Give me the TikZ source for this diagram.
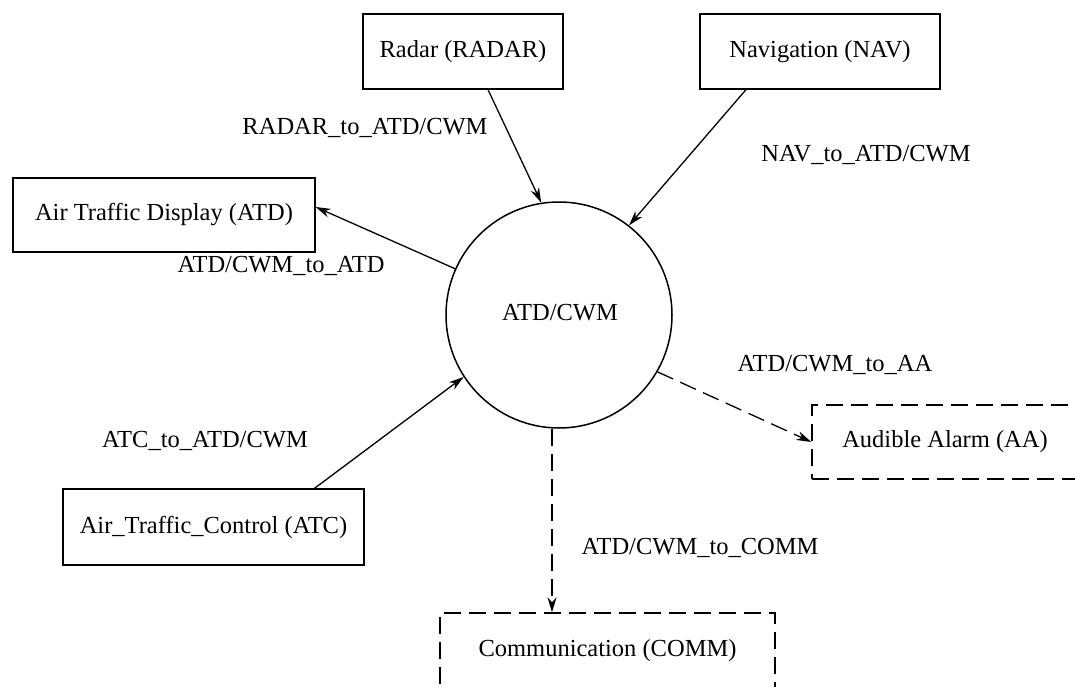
\documentclass[tikz,border=0pt]{standalone}
\usepackage{fontspec}
\setmainfont{Liberation Serif}
\usetikzlibrary{arrows.meta}
\begin{document}
\begin{tikzpicture}[x=1pt,y=-1pt,
  every node/.style={font=\fontsize{24.5}{28}\selectfont},
  blockbox/.style={draw, line width=1.3pt, inner sep=0pt, rectangle},
  extbox/.style={blockbox, dash pattern=on 17pt off 8pt},
  procnode/.style={draw, circle, line width=1.5pt, minimum size=226pt, inner sep=0pt},
  flow/.style={line width=1.3pt, -{Stealth[length=15pt,width=9pt]}},
  dflow/.style={flow, dash pattern=on 17pt off 8pt},
  flowlabel/.style={inner sep=0pt}]
\useasboundingbox (0,0) rectangle (1075,687);
\clip (0,0) rectangle (1075,687);

% central process
\node[procnode] (cwm) at (559,315) {};
\node[flowlabel] (cwmtext) at (560,313) {ATD/CWM};

% terminators
\node[blockbox, minimum width=200pt, minimum height=75pt] (radar) at (463,51.5) {Radar (RADAR)};
\node[blockbox, minimum width=240pt, minimum height=75pt] (nav) at (820,51.5) {Navigation (NAV)};
\node[blockbox, minimum width=302pt, minimum height=74pt] (atd) at (164,215) {Air Traffic Display (ATD)};
\node[blockbox, minimum width=301pt, minimum height=76pt] (atc) at (213.5,527) {Air\_Traffic\_Control (ATC)};
\node[extbox, minimum width=266pt, minimum height=74pt] (aa) at (945,442) {Audible Alarm (AA)};
\node[extbox, minimum width=335pt, minimum height=76pt] (comm) at (607.5,651) {Communication (COMM)};

% data flows
\draw[flow] ([xshift=25pt]radar.south) -- (cwm.99.6);
\draw[flow] ([xshift=-74pt]nav.south) -- (cwm.52.5);
\draw[flow] (cwm.156.6) -- ([yshift=8pt]atd.east);
\draw[flow] ([xshift=101pt]atc.north) -- (cwm.213.8);
\draw[dflow] (cwm.-30.4) -- (aa.west);
\draw[dflow] ([xshift=-55.5pt]comm.north |- cwm.south) -- ([xshift=-55.5pt]comm.north);

% flow labels
\node[flowlabel] (l1) at (365,128) {RADAR\_to\_ATD/CWM};
\node[flowlabel] (l2) at (866,155) {NAV\_to\_ATD/CWM};
\node[flowlabel] (l3) at (281,266) {ATD/CWM\_to\_ATD};
\node[flowlabel] (l4) at (835,365) {ATD/CWM\_to\_AA};
\node[flowlabel] (l5) at (205,441) {ATC\_to\_ATD/CWM};
\node[flowlabel] (l6) at (700,548) {ATD/CWM\_to\_COMM};
\end{tikzpicture}
\end{document}
